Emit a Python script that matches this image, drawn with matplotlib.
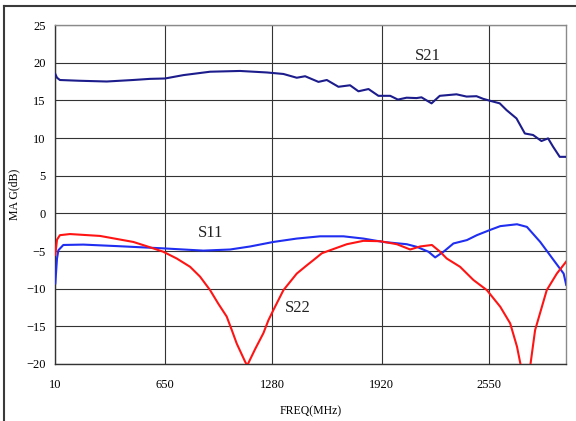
"""
Courbes S21 / S11 / S22 (MAG en dB) d'un amplificateur RF, 10 MHz - 3 GHz.
"""
import matplotlib

matplotlib.use("Agg")
import matplotlib.pyplot as plt
from matplotlib.lines import Line2D

OUTPUT = "out.png"

# --- données ---
s21_freq = [10, 20, 37, 150, 311, 465, 564, 652, 760, 916, 1091, 1248, 1345, 1423,
            1472, 1550, 1599, 1667, 1735, 1784, 1843, 1901, 1970, 2015, 2066, 2124,
            2153, 2212, 2260, 2358, 2417, 2475, 2514, 2553, 2611, 2651, 2709, 2758,
            2806, 2855, 2894, 2923, 2962, 3000]
s21_mag = [18.5, 18.0, 17.7, 17.6, 17.5, 17.7, 17.85, 17.9, 18.35, 18.8, 18.9, 18.7,
           18.5, 18.0, 18.2, 17.45, 17.7, 16.8, 17.0, 16.2, 16.5, 15.6, 15.6, 15.1,
           15.35, 15.3, 15.4, 14.6, 15.6, 15.8, 15.5, 15.55, 15.2, 14.95, 14.6, 13.7,
           12.6, 10.6, 10.4, 9.6, 9.95, 8.85, 7.5, 7.5]

s11_freq = [10, 20, 28, 57, 174, 370, 642, 877, 1033, 1150, 1286, 1423, 1560, 1696,
            1813, 1930, 2067, 2126, 2194, 2233, 2282, 2340, 2419, 2477, 2555, 2614,
            2712, 2770, 2848, 2926, 2985, 3000]
s11_mag = [-9.3, -6.0, -4.9, -4.2, -4.15, -4.35, -4.65, -4.95, -4.8, -4.4, -3.8,
           -3.35, -3.05, -3.05, -3.35, -3.8, -4.1, -4.45, -5.1, -5.85, -5.1, -4.0,
           -3.55, -2.9, -2.2, -1.7, -1.45, -1.8, -3.8, -6.2, -8.0, -9.5]

s22_freq = [10, 20, 37, 96, 272, 467, 550, 642, 721, 799, 857, 916, 964, 1013, 1043,
            1072, 1121, 1133, 1180, 1228, 1257, 1286, 1345, 1423, 1482, 1521, 1570,
            1618, 1716, 1813, 1911, 2009, 2087, 2145, 2214, 2262, 2301, 2379, 2457,
            2536, 2614, 2672, 2712, 2741, 2785, 2818, 2886, 2945, 3000]
s22_mag = [-5.5, -3.5, -2.9, -2.75, -3.0, -3.8, -4.4, -5.1, -6.0, -7.1, -8.4, -10.2,
           -12.0, -13.7, -15.5, -17.3, -19.7, -20.2, -18.0, -15.9, -14.2, -12.85,
           -10.2, -8.0, -6.9, -6.2, -5.3, -4.9, -4.1, -3.65, -3.7, -4.1, -4.8, -4.4,
           -4.2, -5.1, -6.0, -7.1, -8.85, -10.2, -12.4, -14.6, -17.7, -21.0, -21.0,
           -15.5, -10.2, -8.0, -6.4]

x_ticks = [10, 650, 1280, 1920, 2550]
y_ticks = [-20, -15, -10, -5, 0, 5, 10, 15, 20, 25]

# (texte, fréquence, niveau)
curve_labels = [("S21", 2192, 20.9), ("S11", 916, -2.6), ("S22", 1428, -12.6)]


def main():
    plt.rcParams["font.family"] = ["Liberation Serif", "DejaVu Serif"]

    fig = plt.figure(figsize=(5.76, 4.21), dpi=100)
    ax = fig.add_axes([0.096, 0.1354, 0.887, 0.8052])

    ax.plot(s21_freq, s21_mag, color="#1c1c8c", lw=1.5, zorder=3)
    ax.plot(s11_freq, s11_mag, color="#1f2ef0", lw=1.5, zorder=3)
    ax.plot(s22_freq, s22_mag, color="#ff1414", lw=1.5, zorder=3)

    ax.set_xlim(10, 3000)
    ax.set_ylim(-20, 25)
    ax.set_xticks(x_ticks)
    ax.set_yticks(y_ticks)
    ax.tick_params(length=0, labelsize=9)
    ax.tick_params(axis="x", pad=11)
    ax.tick_params(axis="y", pad=7)
    ax.grid(True, color="#333333", lw=0.8)
    ax.set_axisbelow(True)

    for side, spine in ax.spines.items():
        spine.set_color("#333333" if side in ("left", "bottom") else "#8a8a8a")
        spine.set_linewidth(1.0)

    for text, f, v in curve_labels:
        ax.text(f, v, text, fontsize=12, ha="center", va="center", color="#222222")

    ax.set_xlabel("FREQ(MHz)", fontsize=8.5, labelpad=10)
    ax.set_ylabel("MA G(dB)", fontsize=8.5)
    ax.yaxis.set_label_coords(-0.068, 0.5)

    # cadre extérieur (haut et gauche)
    fig.add_artist(Line2D([4 / 576, 4 / 576], [0, 1 - 6 / 421], transform=fig.transFigure,
                          color="#3a3a3a", lw=1.5))
    fig.add_artist(Line2D([4 / 576, 1], [1 - 6 / 421, 1 - 6 / 421], transform=fig.transFigure,
                          color="#3a3a3a", lw=1.5))

    fig.savefig(OUTPUT, dpi=100)
    plt.close(fig)


if __name__ == "__main__":
    main()
